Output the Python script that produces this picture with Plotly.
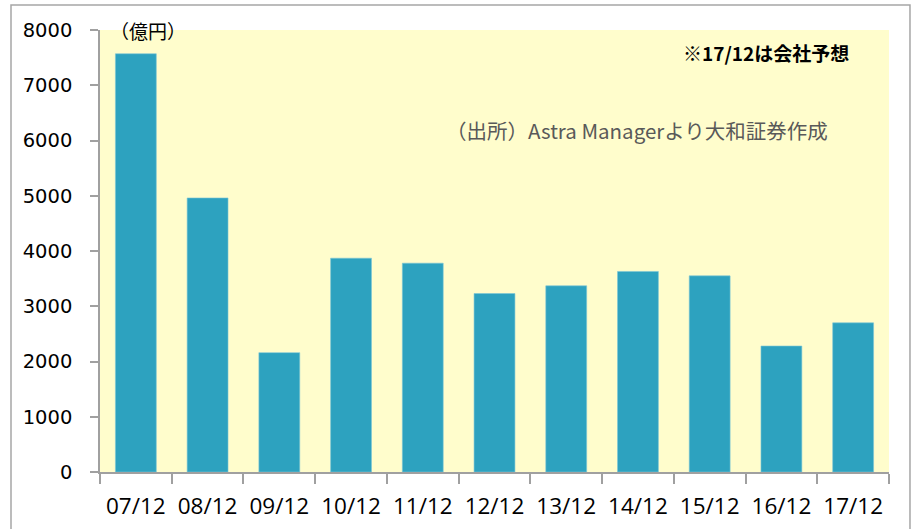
import plotly.graph_objects as go

# 経常利益の推移（億円）
periods = ["07/12", "08/12", "09/12", "10/12", "11/12", "12/12",
           "13/12", "14/12", "15/12", "16/12", "17/12"]
values = [7570, 4960, 2160, 3870, 3780, 3230, 3370, 3630, 3550, 2280, 2700]
y_ticks = [0, 1000, 2000, 3000, 4000, 5000, 6000, 7000, 8000]

BAR = "#2DA2BF"
AXIS = "#A0A0A0"
JP = "Noto Sans CJK JP"

fig = go.Figure(
    go.Bar(
        x=periods,
        y=values,
        marker=dict(color=BAR, line=dict(color="#7CC6D6", width=0.6)),
        width=0.57,
    )
)

fig.update_layout(
    width=919,
    height=529,
    margin=dict(l=100, r=30, t=30, b=57),
    paper_bgcolor="white",
    plot_bgcolor="#FFFDCC",
    showlegend=False,
    bargap=0.43,
    font=dict(family="DejaVu Sans", color="black"),
)

fig.update_xaxes(
    type="category",
    automargin=False,
    showline=True,
    linecolor=AXIS,
    linewidth=1.5,
    ticks="outside",
    tickson="boundaries",
    ticklen=10,
    tickcolor=AXIS,
    tickwidth=1.5,
    tickfont=dict(family="Open Sans", size=22.5, color="black"),
    ticklabelstandoff=13,
    showgrid=False,
    zeroline=False,
)

fig.update_yaxes(
    range=[0, 8000],
    automargin=False,
    tickvals=y_ticks,
    showline=True,
    linecolor=AXIS,
    linewidth=1.5,
    ticks="outside",
    ticklen=8,
    tickcolor=AXIS,
    tickwidth=1.5,
    tickfont=dict(family="DejaVu Sans", size=19.5, color="black"),
    ticklabelstandoff=14,
    showgrid=False,
    zeroline=False,
)

annotations = [
    dict(text="（億円）", x=0.01, y=1.0, xanchor="left", yanchor="middle",
         font=dict(family=JP, size=19, color="black")),
    dict(text="<b>※17/12は会社予想</b>", x=0.952, y=0.948, xanchor="right", yanchor="middle",
         font=dict(family=JP, size=19, color="black")),
    dict(text="（出所）Astra Managerより大和証券作成", x=0.925, y=0.774,
         xanchor="right", yanchor="middle",
         font=dict(family=JP, size=20.5, color="#595959")),
]
for a in annotations:
    fig.add_annotation(xref="paper", yref="paper", showarrow=False, **a)

# outer chart frame
fig.add_shape(
    type="rect", xref="paper", yref="paper",
    x0=-0.1128, x1=1.0266, y0=-0.16, y1=1.0566,
    line=dict(color="#A6A6A6", width=1.5), layer="below",
)

fig.write_html("out.html")
